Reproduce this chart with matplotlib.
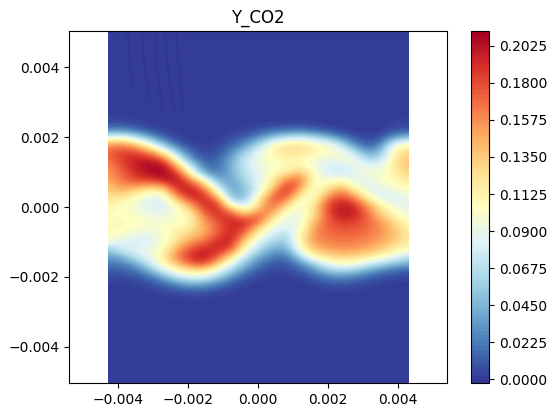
import numpy as np
from matplotlib import pyplot, patches
from matplotlib.colors import BoundaryNorm

# field values, in units of 1e-3
x_ticks = [-0.004, -0.002, 0.0, 0.002, 0.004]
y_ticks = [-0.004, -0.002, 0.0, 0.002, 0.004]

# rows run from y=0.0026 to y=-0.0026 in steps of 0.0002, columns span the domain
y_co2 = [
    [3, 2, 1, 0, 0, 0, 0, 0, 0, 0, 0, 0, 0, 0, 0, 0, 0, 0, 0, 0, 0, 1, 2],
    [6, 6, 4, 1, 0, 0, 0, 0, 0, 0, 0, 0, 2, 2, 3, 2, 1, 0, 0, 0, 0, 3, 4],
    [25, 28, 18, 8, 2, 0, 0, 0, 0, 2, 4, 8, 16, 20, 22, 15, 8, 2, 1, 0, 1, 8, 10],
    [85, 92, 70, 40, 15, 3, 0, 0, 1, 5, 12, 28, 50, 65, 75, 65, 48, 25, 8, 3, 8, 35, 50],
    [150, 155, 135, 95, 50, 15, 3, 1, 3, 12, 30, 60, 100, 118, 122, 105, 98, 70, 28, 10, 25, 95, 105],
    [168, 182, 178, 155, 108, 50, 15, 4, 7, 25, 55, 85, 112, 122, 125, 115, 105, 98, 65, 28, 50, 115, 128],
    [168, 185, 195, 190, 172, 92, 30, 8, 12, 38, 72, 92, 108, 112, 115, 100, 92, 95, 95, 55, 65, 122, 136],
    [158, 180, 198, 208, 205, 145, 70, 20, 16, 42, 75, 92, 102, 108, 108, 95, 82, 80, 95, 88, 85, 125, 138],
    [152, 172, 192, 205, 212, 188, 105, 35, 20, 42, 70, 88, 102, 112, 140, 105, 80, 76, 82, 100, 92, 118, 132],
    [148, 168, 182, 188, 200, 205, 160, 100, 35, 40, 62, 85, 112, 158, 168, 108, 90, 105, 85, 88, 105, 110, 122],
    [136, 155, 155, 145, 150, 198, 192, 155, 70, 35, 52, 85, 120, 188, 165, 95, 112, 135, 105, 80, 90, 105, 108],
    [130, 138, 118, 100, 100, 175, 200, 188, 118, 38, 48, 90, 158, 195, 132, 92, 140, 168, 140, 95, 80, 88, 100],
    [120, 115, 100, 85, 80, 132, 178, 195, 175, 55, 52, 120, 178, 165, 100, 100, 168, 190, 175, 125, 90, 82, 90],
    [112, 105, 95, 85, 78, 100, 138, 188, 195, 125, 85, 132, 175, 122, 92, 122, 178, 202, 195, 158, 118, 92, 88],
    [105, 105, 100, 92, 88, 100, 112, 168, 192, 180, 132, 172, 148, 92, 90, 118, 176, 202, 198, 168, 130, 108, 90],
    [105, 108, 105, 100, 98, 100, 108, 152, 178, 195, 190, 178, 108, 90, 88, 138, 172, 188, 186, 172, 150, 125, 102],
    [108, 108, 100, 98, 100, 110, 120, 145, 172, 195, 185, 130, 92, 82, 90, 150, 172, 178, 176, 170, 155, 135, 112],
    [105, 102, 90, 88, 100, 115, 135, 148, 178, 198, 162, 105, 80, 60, 108, 155, 168, 170, 170, 164, 154, 138, 120],
    [95, 82, 78, 82, 98, 125, 155, 170, 192, 198, 130, 85, 60, 50, 110, 152, 160, 165, 163, 157, 148, 132, 114],
    [55, 80, 85, 90, 105, 145, 178, 192, 195, 178, 102, 65, 42, 35, 98, 138, 150, 155, 153, 147, 135, 118, 104],
    [38, 45, 75, 88, 112, 162, 190, 200, 180, 130, 78, 42, 25, 20, 60, 115, 126, 134, 132, 122, 108, 90, 72],
    [22, 25, 42, 75, 108, 138, 175, 188, 142, 92, 52, 25, 12, 10, 28, 60, 95, 108, 104, 85, 68, 55, 42],
    [12, 13, 20, 45, 80, 110, 125, 128, 95, 62, 30, 12, 5, 5, 12, 30, 55, 65, 58, 42, 28, 18, 14],
    [5, 6, 8, 18, 40, 70, 85, 85, 62, 32, 12, 4, 2, 2, 4, 12, 25, 30, 25, 15, 8, 5, 4],
    [1, 2, 3, 6, 14, 30, 40, 40, 25, 10, 3, 1, 0, 0, 1, 3, 8, 10, 8, 4, 2, 1, 1],
    [0, 0, 1, 2, 4, 8, 12, 12, 6, 3, 1, 0, 0, 0, 0, 1, 2, 3, 2, 1, 0, 0, 0],
    [0, 0, 0, 0, 1, 1, 2, 2, 1, 1, 0, 0, 0, 0, 0, 0, 0, 1, 0, 0, 0, 0, 0],
]

# faint dark streaks in the top of the domain
streak_x = [[-0.00371, -0.00368, -0.00360], [-0.00331, -0.00325, -0.00309],
            [-0.00294, -0.00288, -0.00271], [-0.00266, -0.00256, -0.00240],
            [-0.00234, -0.00225, -0.00214]]
streak_y = [[0.00500, 0.00425, 0.00354], [0.00500, 0.00406, 0.00306],
            [0.00500, 0.00387, 0.00269], [0.00500, 0.00387, 0.00271],
            [0.00500, 0.00387, 0.00271]]

# the rest of the domain above and below the table is free of CO2
field = np.pad(np.array(y_co2, dtype=float), ((12, 12), (0, 0)))
field = np.maximum(field, 0.5) * 1e-3
levels = np.arange(-1, 95) * 0.00225

fig = pyplot.figure(figsize=(5.47, 4.12), dpi=100)
ax = fig.add_axes([69 / 547, 1 - 383 / 412, 378 / 547, 352 / 412])
cax = fig.add_axes([471 / 547, 1 - 383 / 412, 18 / 547, 352 / 412])

dx = 0.0086 / 22
cmap = pyplot.get_cmap('RdYlBu_r', len(levels) - 1)
norm = BoundaryNorm(levels, cmap.N)
im = ax.imshow(field, extent=(-0.0043 - dx / 2, 0.0043 + dx / 2, -0.0051, 0.0051),
               aspect='auto', cmap=cmap, norm=norm, interpolation='bicubic',
               interpolation_stage='data')
im.set_clip_path(patches.Rectangle((-0.0043, -0.00503), 0.0086, 0.01006,
                                   transform=ax.transData))
streak_color = cmap(norm(-0.001))
for sx, sy in zip(streak_x, streak_y):
    ax.plot(sx, sy, color=streak_color, linewidth=2.0, alpha=0.7, solid_capstyle='round')

ax.set_xlim(-0.0054, 0.0054)
ax.set_ylim(-0.00503, 0.00503)
ax.set_xticks(x_ticks)
ax.set_yticks(y_ticks)
ax.set_title('Y_CO2', fontsize=12)

cbar = fig.colorbar(im, cax=cax)
tick_values = np.arange(0, 10) * 0.0225
cbar.set_ticks(tick_values)
cbar.ax.set_yticklabels(['{:.4f}'.format(v) for v in tick_values])
cbar.ax.minorticks_off()

fig.savefig('out.png', dpi=100)
